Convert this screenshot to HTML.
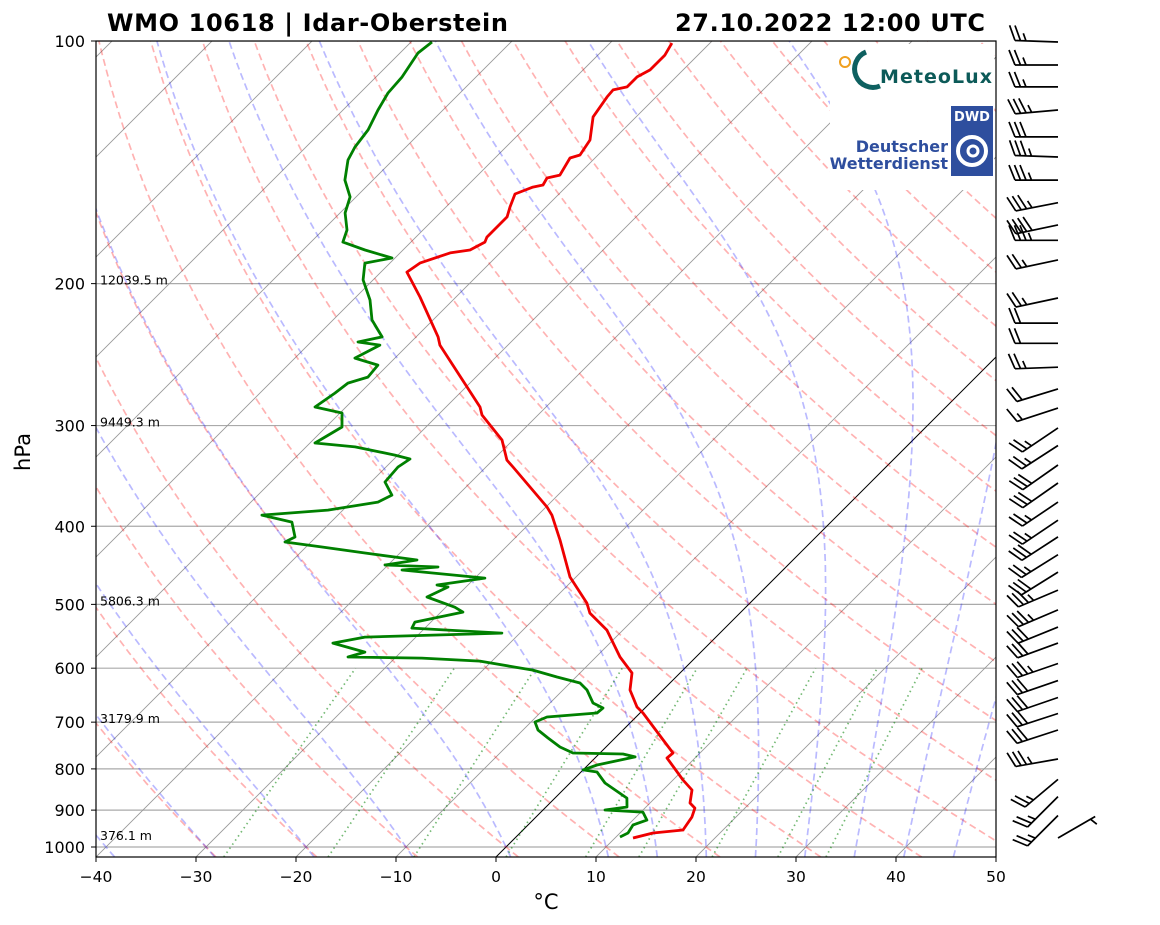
<!DOCTYPE html>
<html><head><meta charset="utf-8"><style>
html,body{margin:0;padding:0;background:#fff;}
svg{display:block;font-family:"DejaVu Sans","Liberation Sans",sans-serif;}
</style></head><body>
<svg id="chart" width="1160" height="925" viewBox="0 0 1160 925" xmlns="http://www.w3.org/2000/svg">
<defs><clipPath id="clip"><rect x="96" y="41" width="900" height="816"/></clipPath></defs>
<rect x="0" y="0" width="1160" height="925" fill="#fff"/>
<g id="bg" clip-path="url(#clip)"></g>
<g id="logos">
<rect x="830" y="44" width="164" height="146" fill="#fff"/>
<circle cx="845" cy="62" r="5" fill="none" stroke="#f0a020" stroke-width="2"/>
<path d="M 866 52 A 17 17 0 1 0 880 86" fill="none" stroke="#0e6060" stroke-width="5"/>
<text x="880" y="83" font-size="19" font-weight="bold" fill="#0c5a58" textLength="112">MeteoLux</text>
<rect x="951" y="106" width="42" height="70" fill="#2e4e9e"/>
<text x="972" y="121" font-size="13" font-weight="bold" fill="#fff" text-anchor="middle">DWD</text>
<circle cx="972" cy="151" r="14" fill="none" stroke="#fff" stroke-width="4"/>
<circle cx="973" cy="151" r="5" fill="none" stroke="#fff" stroke-width="3"/>
<text x="948" y="152" font-size="16" font-weight="bold" fill="#2e4e9e" text-anchor="end">Deutscher</text>
<text x="948" y="169" font-size="16" font-weight="bold" fill="#2e4e9e" text-anchor="end">Wetterdienst</text>
</g>
<g id="data" clip-path="url(#clip)"></g>
<rect x="96" y="41" width="900" height="816" fill="none" stroke="#000" stroke-width="1.2"/>
<g id="axes"></g>
<g id="barbs"></g>
<text x="107" y="31" font-size="24" font-weight="bold" textLength="401">WMO 10618 | Idar-Oberstein</text>
<text x="985" y="31" font-size="24" font-weight="bold" text-anchor="end" textLength="310">27.10.2022 12:00 UTC</text>
<text x="546" y="909" font-size="21" text-anchor="middle">°C</text>
<text x="0" y="0" font-size="21" text-anchor="middle" transform="translate(30,452) rotate(-90)">hPa</text>
</svg>
<script>
// ---- data ----
const P_T = [100.6,104.1,108.6,110.8,114.0,115.0,117.3,120.7,124.2,132.7,138.5,139.7,146.7,147.9,150.9,151.8,154.8,160.7,165.3,175.1,177.6,181.7,183.2,188.6,193.5,207.8,232.9,238.4,284.5,291.1,312.6,331.1,337.7,378.6,387.4,416.0,462.4,498.2,512.7,538.2,581.2,608.3,638.6,670.4,681.9,736.5,764.4,775.4,825.9,849.8,882.0,894.7,918.1,952.6,960.8,974.5];
const T_T = [-63.8,-63.3,-63.3,-63.9,-63.9,-65.0,-64.9,-64.6,-64.3,-62.3,-61.8,-62.5,-61.8,-62.8,-62.5,-63.3,-64.4,-63.6,-62.9,-62.9,-62.6,-63.3,-65.0,-67.0,-67.4,-63.6,-57.8,-56.8,-46.6,-45.6,-41.1,-38.6,-37.3,-29.9,-28.6,-25.3,-20.6,-16.3,-15.0,-11.6,-7.6,-4.8,-3.3,-0.9,0.3,5.0,7.3,7.2,11.0,12.9,14.0,15.0,15.6,16.0,13.3,11.8];
const P_D = [100.3,103.5,110.8,116.0,121.8,128.9,135.4,140.5,148.8,156.1,163.4,171.6,177.6,181.7,185.9,188.6,197.9,209.6,221.9,232.9,236.3,238.4,247.4,252.4,261.2,265.7,273.4,284.5,289.4,301.2,315.3,318.9,326.4,330.1,337.7,352.5,365.9,373.3,381.9,387.4,395.3,412.5,418.4,424.4,431.7,440.5,446.8,449.4,453.3,463.8,473.1,475.8,489.6,504.0,511.2,526.0,535.1,542.8,549.0,558.5,573.0,581.2,582.9,587.9,598.1,603.2,615.3,625.9,638.6,662.8,672.3,681.9,689.8,699.7,715.9,732.5,751.5,764.4,766.6,773.1,791.1,802.4,807.2,832.9,869.7,892.1,899.8,905.0,925.9,939.2,960.8,971.9];
const T_D = [-87.9,-88.2,-87.4,-87.2,-86.5,-85.5,-85.1,-84.5,-82.8,-80.6,-79.5,-77.6,-76.8,-73.8,-70.3,-72.5,-71.0,-68.3,-66.1,-63.4,-65.3,-62.8,-64.0,-61.0,-60.8,-62.2,-62.5,-63.1,-59.8,-58.4,-59.5,-55.1,-50.3,-48.4,-48.8,-48.6,-46.6,-47.3,-51.5,-57.6,-53.9,-52.1,-52.6,-48.4,-43.5,-37.6,-40.3,-34.8,-38.1,-29.0,-33.1,-31.8,-32.9,-29.1,-27.8,-31.6,-31.3,-21.8,-35.1,-37.7,-33.6,-34.8,-27.3,-21.2,-17.1,-15.0,-11.9,-9.0,-7.6,-5.7,-4.2,-4.3,-8.9,-9.6,-8.5,-6.7,-4.6,-2.7,2.4,3.9,0.9,0.0,1.6,3.5,7.2,8.1,6.2,10.2,11.4,10.5,10.8,10.4];
const P_W = [100.3,107.1,114.0,121.8,131.5,139.3,148.8,158.7,169.1,176.7,186.9,208.4,223.9,237.2,253.9,270.2,285.4,302.0,317.6,335.8,353.5,373.3,393.1,412.3,433.9,456.0,480.0,508.0,533.5,558.5,592.0,621.6,652.4,682.9,715.9,777.8,824.4,866.0,914.0,974.5];
const DIR_W = [272,270,270,265,270,272,270,259,258,270,258,258,270,270,268,253,252,236,237,235,235,236,236,237,238,238,247,247,248,250,251,251,251,252,252,260,230,225,225,60];
const SPD_W = [25,25,25,35,30,35,35,35,40,35,25,25,20,20,25,20,15,25,25,30,30,25,25,30,25,30,35,35,30,30,35,30,30,30,30,35,25,25,25,5];
const X_TICKS = [-40,-30,-20,-10,0,10,20,30,40,50];
const Y_TICKS = [100,200,300,400,500,600,700,800,900,1000];
const HGT_P = [200,300,500,700,977];
const HGT_LBL = ["12039.5 m","9449.3 m","5806.3 m","3179.9 m","376.1 m"];
const DRY_T0 = [-30,-20,-10,0,10,20,30,40,50,60,70,80,90,100,110,120,130,140,150,160,170,180,190];
const MOIST_T0 = [-50,-40,-30,-20,-10,0,10,15,20,25,30,35,40,45,50];
const MIX_W = [0.0004,0.001,0.002,0.004,0.007,0.01,0.016,0.024,0.032];

// ---- axis functions ----
const NS="http://www.w3.org/2000/svg";
const X0=96, YTOP=41, YBOT=857, DEC=806;
function yP(p){return YTOP+DEC*Math.log10(p/100);}
const PBOT=100*Math.pow(10,(YBOT-YTOP)/DEC);
function xT(T,p){const y=yP(p);return X0+(T+40)*10+(YBOT-y);}
function mk(parent,tag,attrs){const e=document.createElementNS(NS,tag);for(const k in attrs)e.setAttribute(k,attrs[k]);parent.appendChild(e);return e;}
function pathFrom(ps,ts){let d="";for(let i=0;i<ps.length;i++){d+=(i?"L":"M")+xT(ts[i],ps[i]).toFixed(1)+" "+yP(ps[i]).toFixed(1);}return d;}

const bg=document.getElementById('bg');
Y_TICKS.forEach(p=>{
  const l=mk(bg,'line',{x1:96,x2:996,y1:yP(p),y2:yP(p),stroke:'#aaa','stroke-width':1.2});
  
  
});
for(let T=-130;T<=50;T+=10){
  const l=mk(bg,'line',{x1:xT(T,PBOT),y1:YBOT,x2:xT(T,100),y2:YTOP,stroke:T===0?'#000':'#999','stroke-width':T===0?1:0.9});
  
  
}
const PG=[];for(let p=PBOT;p>=100;p-=5)PG.push(p);if(PG[PG.length-1]>100)PG.push(100);
DRY_T0.forEach(t0=>{
  const ts=PG.map(p=>(t0+273.15)*Math.pow(p/1000,0.2857)-273.15);
  const e=mk(bg,'path',{d:pathFrom(PG,ts),fill:'none',stroke:'rgba(255,0,0,0.3)','stroke-width':1.7,'stroke-dasharray':'7,4'});
  
  
});
function es(T){return 6.112*Math.exp(17.67*T/(T+243.5));}
function dTdp(p,T){const Tk=T+273.15;const rs=0.622*es(T)/(p-es(T));return (287.04*Tk+2.501e6*rs)/(1005.7+2.501e6*2.501e6*rs*0.622/(287.04*Tk*Tk))/p;}
function integ(T0,p0,p1,h){const out=[[p0,T0]];let p=p0,T=T0;const n=Math.ceil(Math.abs(p1-p0)/h);const dp=(p1-p0)/n;for(let i=0;i<n;i++){const k1=dTdp(p,T),k2=dTdp(p+dp/2,T+dp/2*k1),k3=dTdp(p+dp/2,T+dp/2*k2),k4=dTdp(p+dp,T+dp*k3);T+=dp/6*(k1+2*k2+2*k3+k4);p+=dp;out.push([p,T]);}return out;}
MOIST_T0.forEach(t0=>{
  const dn=integ(t0,1000,PBOT,2).reverse();const up=integ(t0,1000,100,5);up.shift();
  const all=dn.concat(up);
  const e=mk(bg,'path',{d:pathFrom(all.map(a=>a[0]),all.map(a=>a[1])),fill:'none',stroke:'rgba(0,0,255,0.27)','stroke-width':1.7,'stroke-dasharray':'7,4'});
  
  
});
MIX_W.forEach(w=>{
  const ps=[PBOT,600];
  const ts=ps.map(p=>{const e=p*w/(0.622+w);const l=Math.log(e/6.112);return 243.5*l/(17.67-l);});
  const e=mk(bg,'path',{d:pathFrom(ps,ts),fill:'none',stroke:'rgba(0,128,0,0.55)','stroke-width':1.7,'stroke-dasharray':'1.5,3.5'});
  
  
});
const dg=document.getElementById('data');
const tl=mk(dg,'path',{d:pathFrom(P_T,T_T),fill:'none',stroke:'#e00','stroke-width':2.8,'stroke-linejoin':'round'});


const dl=mk(dg,'path',{d:pathFrom(P_D,T_D),fill:'none',stroke:'#008000','stroke-width':2.8,'stroke-linejoin':'round'});


HGT_P.forEach((p,i)=>{
  const t=mk(dg,'text',{x:100,y:yP(p)+1,'font-size':12.5});
  t.textContent=HGT_LBL[i];
  
  
});
const ax=document.getElementById('axes');
X_TICKS.forEach(T=>{
  const x=X0+(T+40)*10;
  mk(ax,'line',{x1:x,x2:x,y1:857,y2:862,stroke:'#000'});
  const t=mk(ax,'text',{x:x,y:882,'font-size':15.5,'text-anchor':'middle'});
  t.textContent=(T<0?'\u2212'+(-T):String(T));
  
  
});
Y_TICKS.forEach(p=>{
  const y=yP(p);
  mk(ax,'line',{x1:91,x2:96,y1:y,y2:y,stroke:'#000'});
  const t=mk(ax,'text',{x:85,y:y+6,'font-size':16,'text-anchor':'end'});
  t.textContent=String(p);
  
  
});
const bb=document.getElementById('barbs');
const SX=1058,L=43,SP=5.5,H=15;
P_W.forEach((p,i)=>{
  const g=mk(bb,'g',{stroke:'#000','stroke-width':1.7,fill:'none','stroke-linecap':'butt'});
  
  
  const a=DIR_W[i]*Math.PI/180;
  const ux=Math.sin(a),uy=-Math.cos(a);
  const px=-uy,py=ux;
  const sy=yP(p);
  const ex=SX+ux*L,ey=sy+uy*L;
  let d="M"+SX+" "+sy.toFixed(1)+"L"+ex.toFixed(1)+" "+ey.toFixed(1);
  let s=SPD_W[i];let full=Math.floor(s/10);let half=(s%10)>=5?1:0;
  let k=0;
  for(let f=0;f<full;f++){const bx=ex-ux*SP*k,by=ey-uy*SP*k;d+="M"+bx.toFixed(1)+" "+by.toFixed(1)+"L"+(bx+px*H+ux*H*0.4).toFixed(1)+" "+(by+py*H+uy*H*0.4).toFixed(1);k++;}
  if(half){if(full===0)k=1;const bx=ex-ux*SP*k,by=ey-uy*SP*k;d+="M"+bx.toFixed(1)+" "+by.toFixed(1)+"L"+(bx+px*H*0.5+ux*H*0.2).toFixed(1)+" "+(by+py*H*0.5+uy*H*0.2).toFixed(1);}
  mk(g,'path',{d:d});
});
</script>
</body></html>
